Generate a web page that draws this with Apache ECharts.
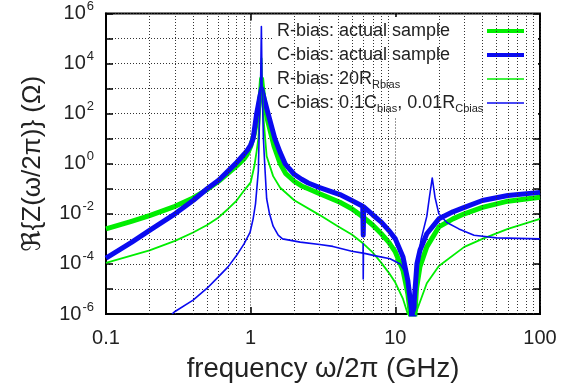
<!DOCTYPE html>
<html><head><meta charset="utf-8">
<script src="https://cdn.jsdelivr.net/npm/echarts@6/dist/echarts.min.js"></script>
<style>html,body{margin:0;padding:0;background:#fff}#c{width:578px;height:391px}</style>
</head><body><div id="c"></div>
<script>
const FONT = '"Liberation Sans", Arial, "DejaVu Sans", sans-serif';

const seriesNames = ['R-bias: actual sample', 'C-bias: actual sample', 'R-bias: 20R_Rbias', 'C-bias: 0.1C_bias, 0.01R_Cbias'];
const legendLabels = [
  '{t|R-bias: actual sample}',
  '{t|C-bias: actual sample}',
  '{t|R-bias: 20R}{sub|Rbias}',
  '{t|C-bias: 0.1C}{sub|bias}{t|, 0.01R}{sub|Cbias}'
];
const xTickLabels = {'0.1': '0.1', '1': '1', '10': '10', '100': '100'};
const minorGridFreqs = [0.2,0.3,0.4,0.5,0.6,0.7,0.8,0.9,2,3,4,5,6,7,8,9,20,30,40,50,60,70,80,90];

// R-bias: actual sample (thick green)
const freqRActual = [0.1,0.15,0.2,0.3,0.4,0.5,0.6,0.7,0.8,0.9,0.95,1.0,1.06,1.12,1.17,1.19,1.22,1.3,1.45,1.6,1.75,2.0,2.25,2.5,3,4.14,5,6,7,8,9,10,11.3,12.2,12.9,13.2,13.5,14.0,14.8,16.5,20,25,30,40,60,100];
const zRActual = [2.5e-3,5.0e-3,8.5e-3,0.02,0.043,0.093,0.2,0.42,0.83,1.55,2.5,5.0,16,100,630,2500,630,63,5.0,1.0,0.4,0.2,0.13,0.1,0.063,0.029,0.016,7.4e-3,3.5e-3,1.6e-3,7.4e-4,3.0e-4,5.5e-5,6.5e-6,5e-7,1e-8,3e-7,1e-5,7.8e-5,4.8e-4,3.0e-3,6.3e-3,0.01,0.018,0.032,0.046];

// C-bias: actual sample (thick blue)
const freqCActual = [0.1,0.15,0.2,0.3,0.4,0.5,0.6,0.7,0.8,0.9,0.95,1.0,1.04,1.1,1.15,1.19,1.24,1.32,1.47,1.6,1.73,1.85,2.0,2.25,2.5,3,4.14,5,5.95,6.0,6.05,7,8,9,10,11.3,12.2,12.9,13.2,13.5,14.1,14.8,16.5,20,25,30,40,60,100];
const zCActual = [1.7e-4,7.2e-4,2.2e-3,0.01,0.034,0.1,0.22,0.52,1.12,2.4,3.5,5.6,10,100,400,1000,400,100,10,2.8,1,0.63,0.38,0.24,0.17,0.112,0.059,0.034,0.02,1.4e-3,0.019,9e-3,4.7e-3,2.2e-3,1e-3,1.9e-4,2.2e-5,1.6e-6,1e-8,3.2e-6,1e-4,3.5e-4,1.6e-3,6.3e-3,0.012,0.018,0.034,0.054,0.072];

// R-bias: 20 R_Rbias (thin green)
const freqR20 = [0.1,0.2,0.3,0.4,0.5,0.6,0.7,0.8,0.9,1.0,1.06,1.1,1.13,1.16,1.18,1.19,1.2,1.22,1.26,1.29,1.43,1.6,2,3,4,5,6,7,8,9,10,11.3,12.5,13.2,13.8,16.5,20,30,40,60,100];
const zR20 = [1.1e-4,3.5e-4,8.3e-4,1.8e-3,3.6e-3,7.2e-3,0.016,0.034,0.085,0.18,0.79,3.2,10,100,1000,16000,1000,100,10,2.0,0.32,0.11,0.035,8.9e-3,3.2e-3,1.5e-3,6.5e-4,2.8e-4,1.1e-4,4.5e-5,1.8e-5,4e-6,6.3e-7,1e-8,1e-6,1.7e-5,8.3e-5,4.8e-4,1e-3,2.5e-3,6.3e-3];

// C-bias: 0.1 C_bias, 0.01 R_Cbias (thin blue)
const freqC01 = [0.286,0.3,0.4,0.5,0.6,0.7,0.8,0.9,0.99,1.04,1.08,1.13,1.15,1.17,1.186,1.2,1.213,1.225,1.25,1.29,1.35,1.43,1.55,1.66,2.2,3,3.7,5,5.98,5.99,6.0,6.02,7.3,9.2,10.8,11.6,12.5,13.2,13.6,14.3,15.1,16.5,17.2,18.0,18.8,20,22.7,27.5,35,50,100];
const zC01 = [1e-6,1.26e-6,3.6e-6,1.07e-5,3.1e-5,7.8e-5,2.2e-4,6.3e-4,1.8e-3,6.3e-3,0.025,0.52,50,1000,3e5,1000,100,10,1,0.04,0.01,3.2e-3,1.4e-3,1e-3,7.4e-4,6e-4,5e-4,3.2e-4,2.7e-4,6.3e-4,2.5e-5,2.7e-4,2.1e-4,1.6e-4,1e-4,5e-5,1e-5,1e-8,1e-5,1.6e-4,1e-3,7.9e-3,0.046,0.27,0.046,0.01,4.5e-3,2.5e-3,1.4e-3,1.1e-3,1e-3];

const colors = ['#00ee00', '#0a0af0', '#00ee00', '#0a0af0'];
const widths = [5, 5, 1.8, 1.6];
const legendWidths = [4, 4, 1.5, 1.5];
const freqs = [freqRActual, freqCActual, freqR20, freqC01];
const vals = [zRActual, zCActual, zR20, zC01];

const chart = echarts.init(document.getElementById('c'), null, {renderer: 'canvas'});

const gridLine = {show: true, lineStyle: {type: [1, 2], color: '#333', width: 1}};
const supRich = {
  b: {fontFamily: FONT, fontSize: 20, color: '#222'},
  s: {fontFamily: FONT, fontSize: 13, color: '#222', padding: [0, 0, 14, 1]}
};

const series = seriesNames.map((n, i) => ({
  name: n, type: 'line', showSymbol: false, symbol: 'none', animation: false, z: 2 + i,
  clip: true,
  lineStyle: {color: colors[i], width: widths[i], join: 'round'},
  itemStyle: {color: colors[i]},
  data: freqs[i].map((f, k) => [f, vals[i][k]])
}));
series.unshift({
  name: 'grid', type: 'line', data: [], z: 1, silent: true, animation: false,
  markLine: {
    silent: true, animation: false, symbol: ['none', 'none'], label: {show: false},
    lineStyle: {type: [1, 2], color: '#333', width: 1},
    data: minorGridFreqs.map(f => ({xAxis: f}))
  }
});

chart.setOption({
  animation: false,
  backgroundColor: '#fff',
  grid: {left: 106, right: 38, top: 12, bottom: 77, show: true, borderColor: '#000', borderWidth: 2},
  xAxis: [{
    type: 'log', logBase: 10, min: 0.1, max: 100, interval: 1,
    name: 'frequency ω/2π (GHz)', nameLocation: 'middle', nameGap: 41,
    nameTextStyle: {fontFamily: FONT, fontSize: 27.5, color: '#222'},
    axisLine: {show: true, lineStyle: {color: '#000', width: 2}},
    axisTick: {show: true, inside: true, length: 7, lineStyle: {color: '#000', width: 1.5}},
    axisLabel: {margin: 14, fontFamily: FONT, fontSize: 20, color: '#222',
      formatter: v => { const k = String(+v.toPrecision(3)); return xTickLabels[k] !== undefined ? xTickLabels[k] : ''; }},
    splitLine: gridLine
  }, {
    type: 'log', logBase: 10, min: 0.1, max: 100, interval: 1, position: 'top',
    axisLine: {show: false}, axisLabel: {show: false}, splitLine: {show: false},
    axisTick: {show: true, inside: true, length: 7, lineStyle: {color: '#000', width: 1.5}}
  }],
  yAxis: [{
    type: 'log', logBase: 10, min: 1e-6, max: 1e6, interval: 1,
    name: 'ℜ{Z(ω/2π)} (Ω)', nameLocation: 'middle', nameGap: 60,
    nameTextStyle: {fontFamily: FONT, fontSize: 26, color: '#222'},
    axisLine: {show: true, lineStyle: {color: '#000', width: 2}},
    axisTick: {show: true, inside: true, length: 7, lineStyle: {color: '#000', width: 1.5}},
    axisLabel: {margin: 12, rich: supRich,
      formatter: v => { const e = Math.round(Math.log10(v)); if (e % 2 !== 0) return ''; return '{b|10}{s|' + e + '}'; }},
    splitLine: gridLine
  }, {
    type: 'log', logBase: 10, min: 1e-6, max: 1e6, interval: 1, position: 'right',
    axisLine: {show: false}, axisLabel: {show: false}, splitLine: {show: false},
    axisTick: {show: true, inside: true, length: 7, lineStyle: {color: '#000', width: 1.5}}
  }],
  legend: {
    orient: 'vertical', left: 272, top: 17, align: 'right',
    backgroundColor: '#fff', padding: [3, 12, 3, 5], itemGap: 2, itemWidth: 37, itemHeight: 14,
    textStyle: {fontFamily: FONT, fontSize: 18, color: '#222', width: 205, lineHeight: 22,
      rich: {
        t: {fontFamily: FONT, fontSize: 18, color: '#222', align: 'left', lineHeight: 22},
        sub: {fontFamily: FONT, fontSize: 11, color: '#222', align: 'left', lineHeight: 10, verticalAlign: 'bottom'}
      }},
    formatter: name => legendLabels[seriesNames.indexOf(name)],
    data: seriesNames.map((n, i) => ({
      name: n, icon: 'line',
      itemStyle: {color: colors[i], borderColor: colors[i], borderWidth: legendWidths[i]},
      lineStyle: {width: legendWidths[i], color: colors[i]}
    })),
    selectedMode: false
  },
  series: series
});
</script></body></html>
